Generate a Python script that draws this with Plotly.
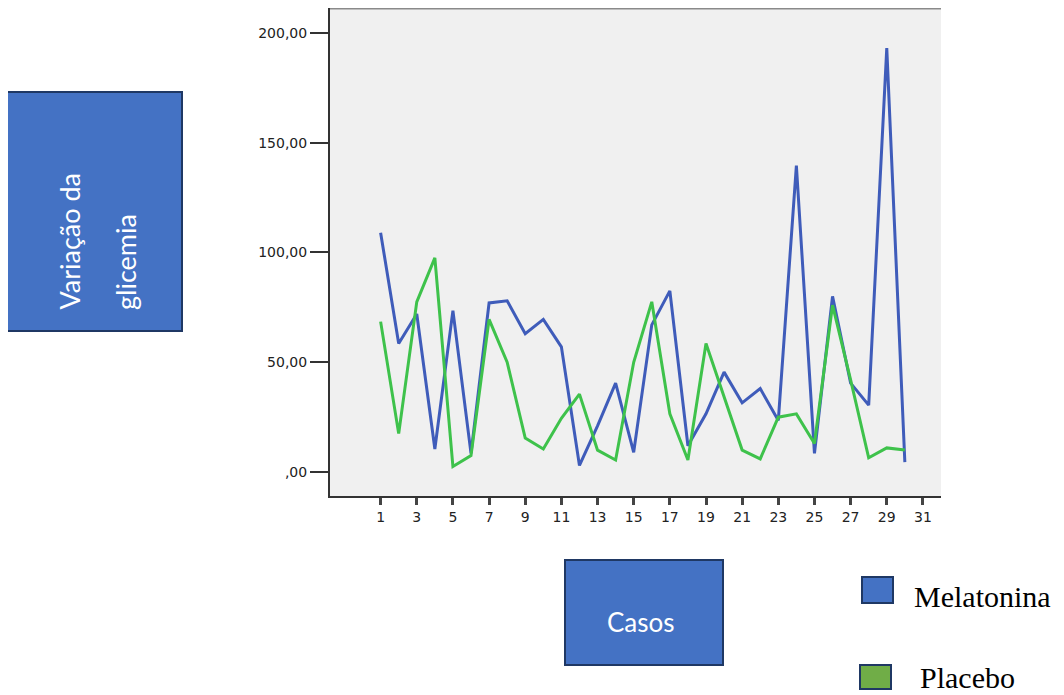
import plotly.graph_objects as go

# ---- data ----
cases = list(range(1, 31))
melatonina = [109, 58.5, 72, 10.5, 73.5, 8.5, 77, 78, 63, 69.5, 57, 3, 21, 40.5, 9,
              67, 82.5, 12, 26.5, 45.5, 31.5, 38, 23.5, 139.5, 8.5, 80, 40.5, 30.5, 193, 4.5]
placebo = [68.5, 17.5, 77.5, 97.5, 2.5, 7.5, 69.5, 50, 15.5, 10.5, 24.5, 35.5, 10, 5.5, 50,
           77.5, 26.5, 5.5, 58.5, 34, 10, 6, 25, 26.5, 13, 76, 42, 6.5, 11, 10]
x_ticks = list(range(1, 32, 2))
y_ticks = [0, 50, 100, 150, 200]
y_ticktext = [",00", "50,00", "100,00", "150,00", "200,00"]
series_names = ["Melatonina", "Placebo"]

# page has an 8px body margin; figure is sized/placed to compensate
OFF = 8
W, H = 1064 - OFF, 695 - OFF
L, T = 330 - OFF, 8 - OFF
R = W - (941 - OFF)
B = H - (496 - OFF)
PW, PH = W - L - R, H - T - B


def px(xp):
    return (xp - OFF - L) / PW


def py(yp):
    return (H - B - (yp - OFF)) / PH


fig = go.Figure()
fig.add_trace(go.Scatter(x=cases, y=melatonina, mode="lines", name=series_names[0],
                         line=dict(color="#3F5CBA", width=3), showlegend=False))
fig.add_trace(go.Scatter(x=cases, y=placebo, mode="lines", name=series_names[1],
                         line=dict(color="#3EC24B", width=3), showlegend=False))

shapes = []
annotations = []

# top border of the plot area
shapes.append(dict(type="line", xref="paper", yref="paper", x0=0, x1=1, y0=py(8.5), y1=py(8.5),
                   line=dict(color="#8a8a8a", width=2)))

# Y-axis title box
shapes.append(dict(type="rect", xref="paper", yref="paper",
                   x0=px(7), x1=px(182), y0=py(331), y1=py(92),
                   fillcolor="#4472C4", line=dict(color="#1F3864", width=2), layer="above"))
annotations.append(dict(text="Variação da", xref="paper", yref="paper",
                        x=px(69), y=py(312), xanchor="center", yanchor="bottom",
                        textangle=-90, showarrow=False,
                        font=dict(family="Lato", size=27, color="white")))
annotations.append(dict(text="glicemia", xref="paper", yref="paper",
                        x=px(125), y=py(312), xanchor="center", yanchor="bottom",
                        textangle=-90, showarrow=False,
                        font=dict(family="Lato", size=27, color="white")))

# X-axis title box
shapes.append(dict(type="rect", xref="paper", yref="paper",
                   x0=px(565), x1=px(723), y0=py(665), y1=py(560),
                   fillcolor="#4472C4", line=dict(color="#1F3864", width=2), layer="above"))
annotations.append(dict(text="Casos", xref="paper", yref="paper",
                        x=px(641), y=py(622), xanchor="center", yanchor="middle",
                        showarrow=False,
                        font=dict(family="Lato", size=26, color="white")))

# legend swatches
shapes.append(dict(type="rect", xref="paper", yref="paper",
                   x0=px(862), x1=px(893), y0=py(603), y1=py(577),
                   fillcolor="#4472C4", line=dict(color="#1F3864", width=2), layer="above"))
shapes.append(dict(type="rect", xref="paper", yref="paper",
                   x0=px(860), x1=px(891), y0=py(689), y1=py(665),
                   fillcolor="#70AD47", line=dict(color="#1F3864", width=2), layer="above"))
annotations.append(dict(text=series_names[0], xref="paper", yref="paper",
                        x=px(912), y=py(596), xanchor="left", yanchor="middle",
                        showarrow=False,
                        font=dict(family="Liberation Serif", size=30, color="black")))
annotations.append(dict(text=series_names[1], xref="paper", yref="paper",
                        x=px(919), y=py(695), xanchor="left", yanchor="bottom",
                        showarrow=False, borderpad=0,
                        font=dict(family="Liberation Serif", size=30, color="black")))

fig.update_layout(
    width=W, height=H,
    margin=dict(l=L, r=R, t=T, b=B, pad=0),
    paper_bgcolor="white",
    plot_bgcolor="#F0F0F0",
    shapes=shapes,
    annotations=annotations,
    xaxis=dict(range=[-1.8, 32.0], tickmode="array", tickvals=x_ticks,
               ticktext=[str(v) for v in x_ticks],
               showgrid=False, zeroline=False, showline=True,
               linecolor="#333333", linewidth=2,
               ticks="outside", ticklen=7, tickwidth=3, tickcolor="#444444",
               tickfont=dict(family="DejaVu Sans", size=14, color="#222222")),
    yaxis=dict(range=[-10.9, 211.3], tickmode="array", tickvals=y_ticks,
               ticktext=y_ticktext,
               showgrid=False, zeroline=False, showline=True,
               linecolor="#333333", linewidth=2,
               ticks="outside", ticklen=18, tickwidth=1.5, tickcolor="#333333",
               tickfont=dict(family="DejaVu Sans", size=14, color="#222222")),
)

fig.write_html("out.html")
